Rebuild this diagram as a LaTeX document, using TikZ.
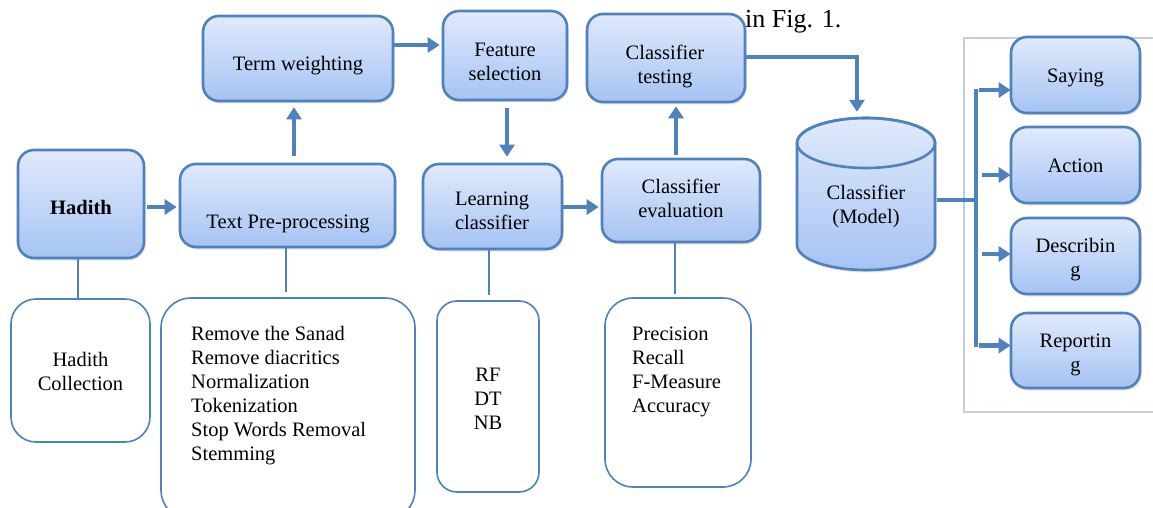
\documentclass[tikz,border=0pt]{standalone}
\usepackage{fontspec}
\setmainfont{Liberation Serif}
\usetikzlibrary{arrows.meta,shadows,calc}
\definecolor{bord}{HTML}{4F81BD}
\definecolor{ftop}{HTML}{E0EAFC}
\definecolor{fbot}{HTML}{A6C3F3}
\definecolor{framec}{HTML}{C3CFE0}
\begin{document}
\begin{tikzpicture}[x=1pt,y=1pt,
 box/.style={draw=bord, line width=2.6pt, rounded corners=16pt, top color=ftop, bottom color=fbot,
   drop shadow={opacity=0.22, shadow xshift=1.5pt, shadow yshift=-2.5pt}, inner sep=0pt},
 wbox/.style={draw=bord, line width=1.6pt, fill=white, inner sep=0pt},
 txt/.style={align=center, font=\fontsize{20.5}{24}\selectfont, inner sep=0pt},
 arr/.style={draw=bord, line width=4.5pt, -{Triangle[length=12pt,width=15pt]}},
 ln/.style={draw=bord, line width=2.5pt},
 brk/.style={draw=bord, line width=4pt},
]
\clip (0,0) rectangle (1153,-508);
\fill[white] (0,0) rectangle (1153,-508);

% background text fragment
\node[font=\fontsize{26}{30}\selectfont, anchor=base west, inner sep=0pt] (fig) at (745,-28) {in Fig. 1.};

% top row boxes
\node[box, minimum width=126, minimum height=108] (hadith) at (81,-204) {};
\node[txt] (haditht) at (81,-207) {\textbf{Hadith}};
\node[box, minimum width=215, minimum height=83] (textpre) at (287.5,-205.5) {};
\node[txt] (textpret) at (288,-224) {Text Pre-processing};
\node[box, minimum width=190, minimum height=85] (tw) at (298,-58.5) {};
\node[txt] (twt) at (298,-66) {Term weighting};
\node[box, minimum width=124, minimum height=89] (fs) at (505,-55.5) {};
\node[txt] (fst) at (505,-62) {Feature\\selection};
\node[box, minimum width=158, minimum height=88] (ct) at (666,-58) {};
\node[txt] (ctt) at (665,-66) {Classifier\\testing};
\node[box, minimum width=139, minimum height=85] (lc) at (492.5,-206.5) {};
\node[txt] (lct) at (492,-211) {Learning\\classifier};
\node[box, minimum width=158, minimum height=83] (ce) at (681,-200.5) {};
\node[txt] (cet) at (681,-198) {Classifier\\evaluation};

% cylinder
\path[draw=bord, line width=2.6pt, top color=ftop, bottom color=fbot,
   drop shadow={opacity=0.22, shadow xshift=1.5pt, shadow yshift=-2.5pt}]
  (797,-143) -- (797,-245) arc[start angle=180,end angle=360,x radius=69,y radius=25]
  -- (935,-143) arc[start angle=0,end angle=180,x radius=69,y radius=25] -- cycle;
\draw[bord, line width=2.6pt] (866,-143) ellipse [x radius=69, y radius=25];
\node[minimum width=138, minimum height=153, inner sep=0pt] (model) at (866,-193.5) {};
\node[txt] (modelt) at (866,-206.5) {Classifier\\(Model)};

% right frame and results
\draw[framec, line width=2pt] (964,-38) rectangle (1175,-412);
\node[box, minimum width=129, minimum height=76] (say) at (1075.5,-75) {};
\node[txt] (sayt) at (1075.5,-78) {Saying};
\node[box, minimum width=129, minimum height=76] (act) at (1075.5,-165) {};
\node[txt] (actt) at (1075.5,-166) {Action};
\node[box, minimum width=129, minimum height=76] (desc) at (1075.5,-256) {};
\node[txt] (desct) at (1075.5,-260) {Describin\\g};
\node[box, minimum width=129, minimum height=75] (rep) at (1075.5,-350.5) {};
\node[txt] (rept) at (1075.5,-354.5) {Reportin\\g};

% bottom boxes
\node[wbox, rounded corners=25pt, minimum width=139, minimum height=143] (hc) at (80.5,-370.5) {};
\node[txt] (hct) at (80.5,-371) {Hadith\\Collection};
\node[wbox, rounded corners=30pt, minimum width=254, minimum height=222] (steps) at (288,-409) {};
\node[txt, align=left, anchor=west] (stepst) at (191,-396) {Remove the Sanad\\Remove diacritics\\Normalization\\Tokenization\\Stop Words Removal\\Stemming};
\node[wbox, rounded corners=20pt, minimum width=102, minimum height=191] (rf) at (488,-396.5) {};
\node[txt] (rft) at (488,-399) {RF\\DT\\NB};
\node[wbox, rounded corners=28pt, minimum width=146, minimum height=189] (prec) at (678,-392.5) {};
\node[txt, align=left, anchor=west] (prect) at (632,-372) {Precision\\Recall\\F-Measure\\Accuracy};

% arrows
\draw[arr] ([xshift=2pt,yshift=-3pt]hadith.east) -- ([xshift=-2pt,yshift=-3pt]hadith.east -| textpre.west);
\draw[arr] ([xshift=6.5pt,yshift=7pt]textpre.north) -- ([xshift=6.5pt,yshift=-5pt]textpre.north |- tw.south);
\draw[arr] ([yshift=13.5pt]tw.east) -- ([yshift=13.5pt,xshift=-2pt]tw.east -| fs.west);
\draw[arr] ([xshift=2pt,yshift=-7pt]fs.south) -- ([xshift=2pt,yshift=6pt]fs.south |- lc.north);
\draw[arr] ([yshift=-0.5pt]lc.east) -- ([yshift=-0.5pt,xshift=-2pt]lc.east -| ce.west);
\draw[arr] ([xshift=-5pt,yshift=3pt]ce.north) -- ([xshift=-5pt,yshift=-3pt]ce.north |- ct.south);
\draw[arr] ([yshift=1pt]ct.east) -| ([xshift=-9pt,yshift=5pt]model.north);

% down lines
\draw[ln] ([xshift=-3pt]hadith.south) -- ([xshift=-3pt]hadith.south |- hc.north);
\draw[ln] ([xshift=-1.5pt]textpre.south) -- ([xshift=-1.5pt,yshift=5pt]textpre.south |- steps.north);
\draw[ln] ([xshift=-3.5pt]lc.south) -- ([xshift=-3.5pt,yshift=5pt]lc.south |- rf.north);
\draw[ln] ([xshift=-6pt]ce.south) -- ([xshift=-6pt,yshift=3pt]ce.south |- prec.north);

% bracket
\coordinate (btop) at (976,-89);
\coordinate (bbot) at (976,-347);
\draw[brk] ([yshift=-6.5pt,xshift=2pt]model.east) -- ([yshift=-6.5pt]model.east -| btop);
\draw[brk] (btop) -- (bbot);
\draw[arr] ([xshift=-31pt,yshift=-15pt]say.west) -- ([xshift=1pt,yshift=-15pt]say.west);
\draw[arr] ([xshift=-28pt,yshift=-10pt]act.west) -- ([xshift=1pt,yshift=-10pt]act.west);
\draw[arr] ([xshift=-28pt,yshift=2pt]desc.west) -- ([xshift=1pt,yshift=2pt]desc.west);
\draw[arr] ([xshift=-31pt,yshift=5pt]rep.west) -- ([xshift=1pt,yshift=5pt]rep.west);
\end{tikzpicture}
\end{document}
